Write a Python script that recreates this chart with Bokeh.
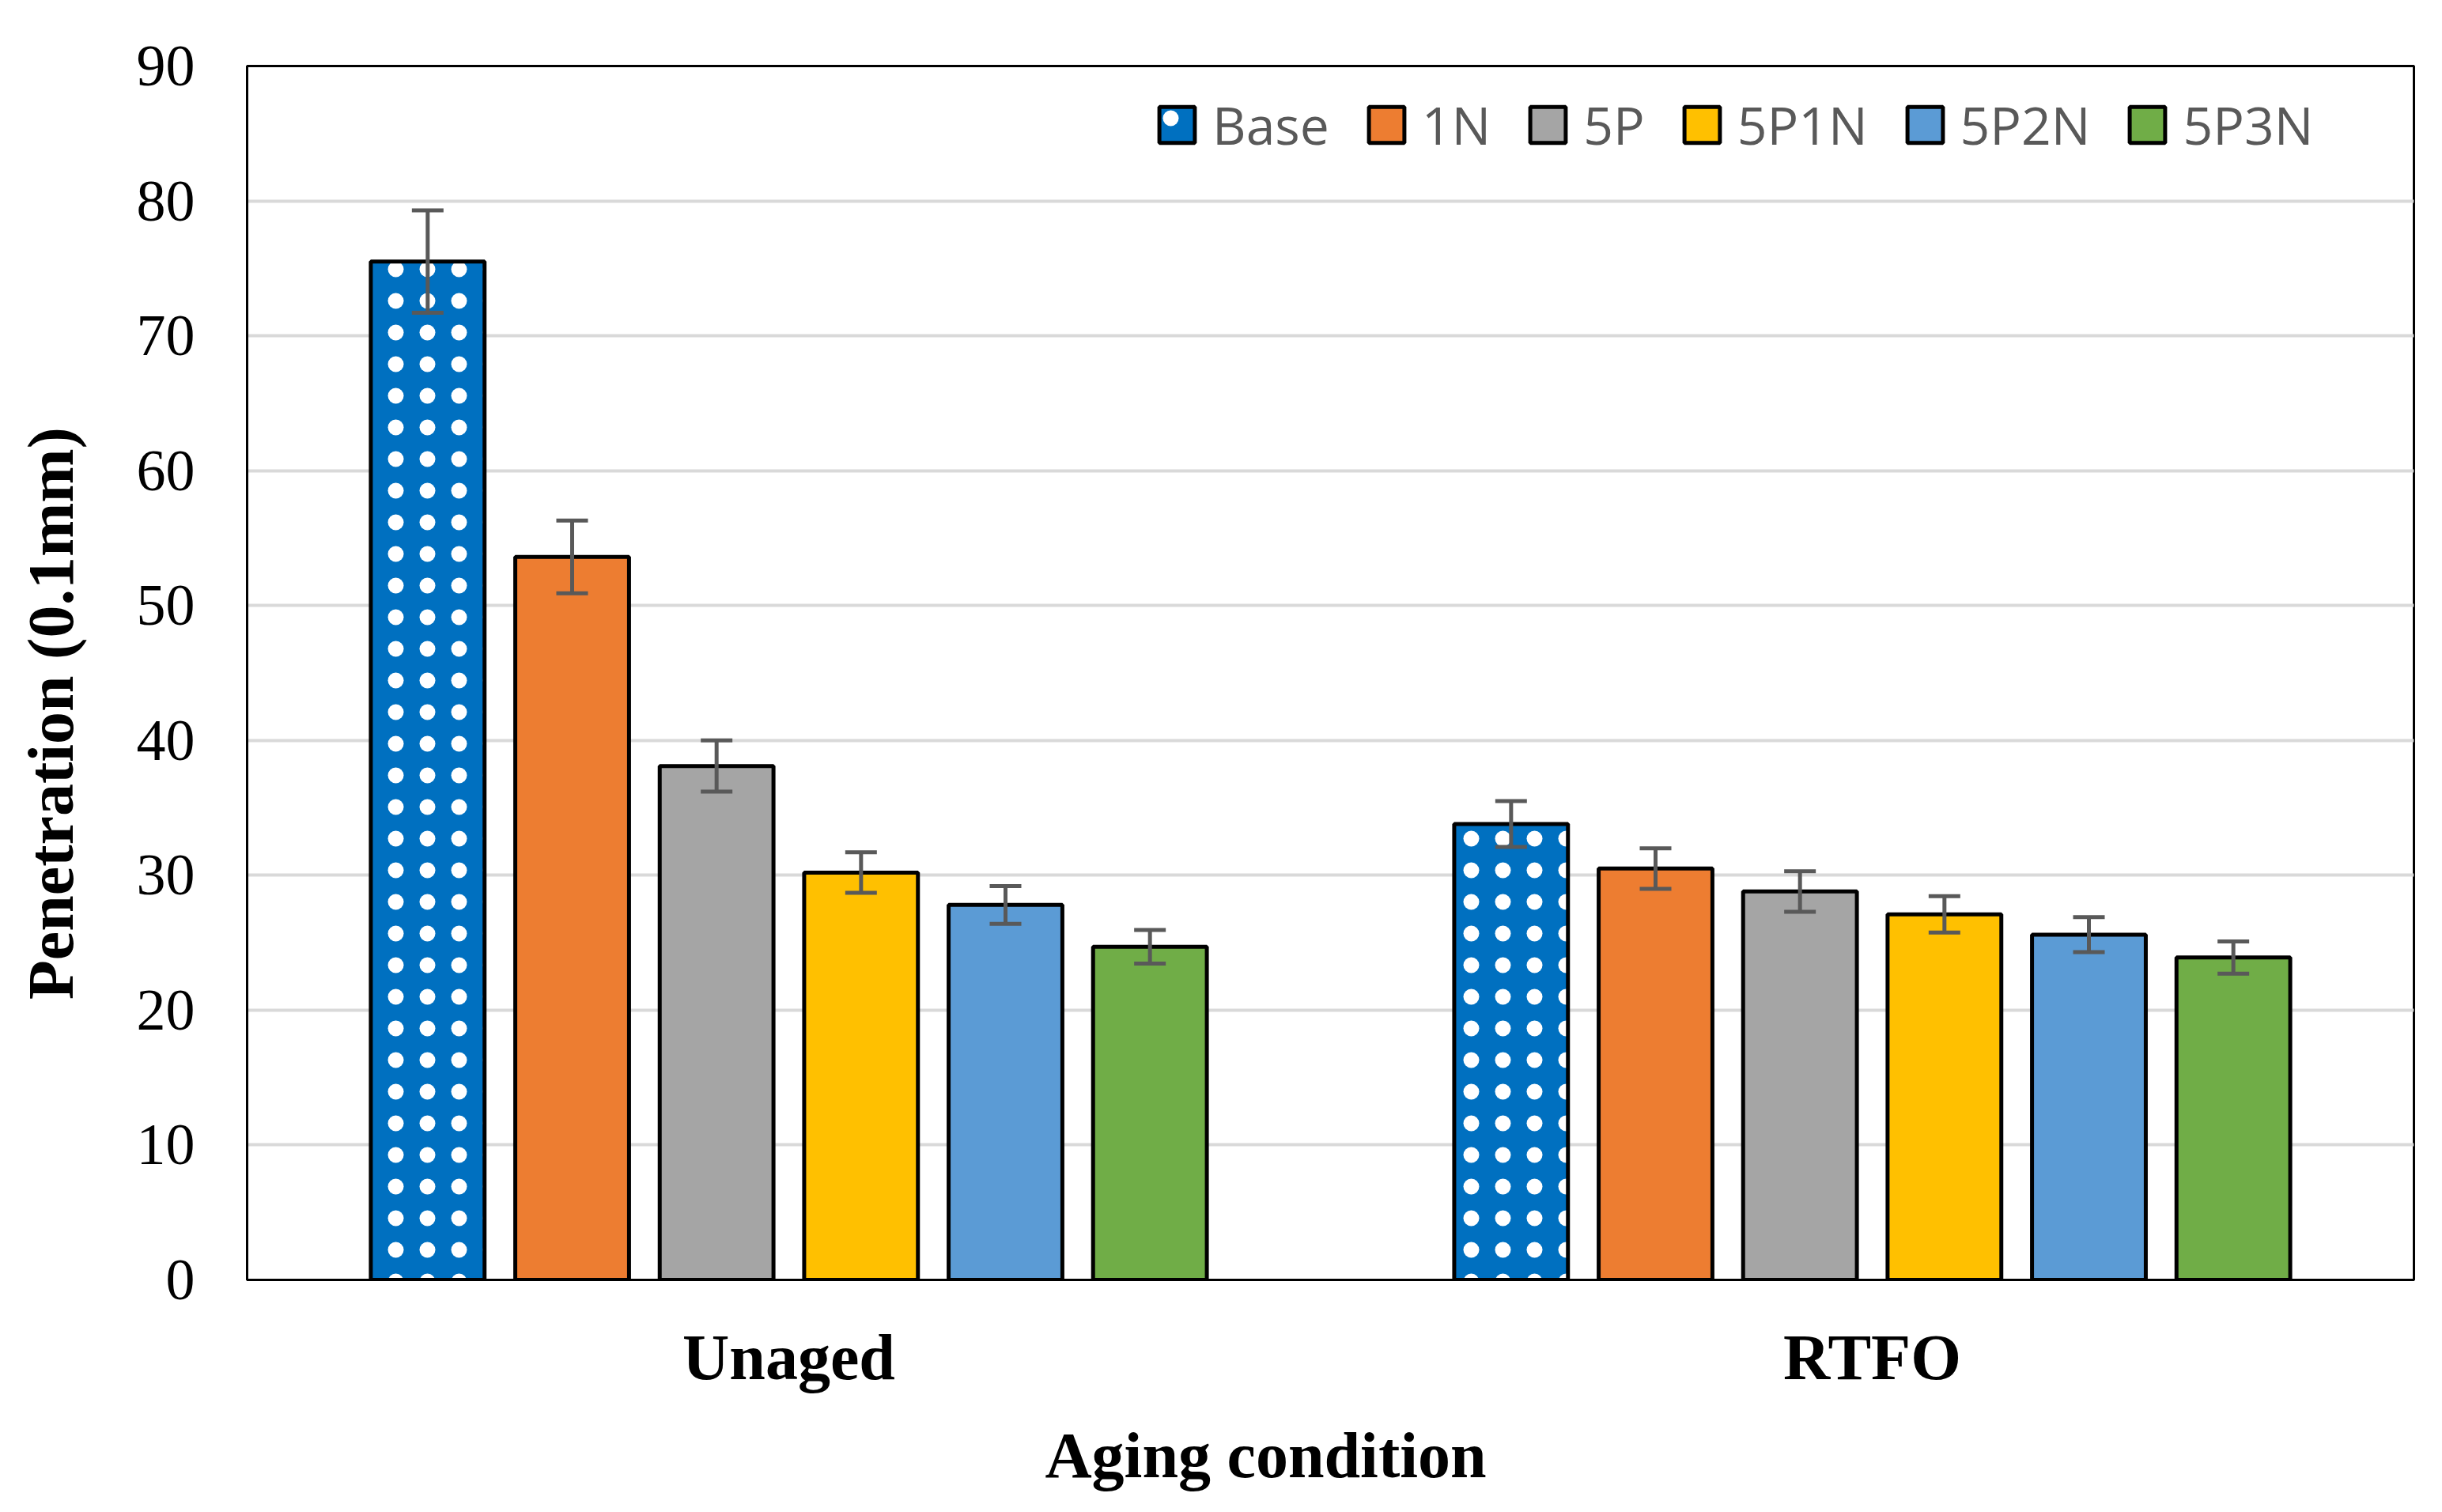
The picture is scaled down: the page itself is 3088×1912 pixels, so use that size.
from bokeh.plotting import figure
from bokeh.models import (ColumnDataSource, FixedTicker, Whisker, TeeHead, Legend, LegendItem,
                          Range1d)
from bokeh.embed import file_html
from bokeh.resources import INLINE

conditions = ["Unaged", "RTFO"]
series = ["Base", "1N", "5P", "5P1N", "5P2N", "5P3N"]
colors = ["#0070C0", "#ED7D31", "#A5A5A5", "#FFC000", "#5B9BD5", "#70AD47"]
values = {
    "Base": [75.5, 33.8],
    "1N":   [53.6, 30.5],
    "5P":   [38.1, 28.8],
    "5P1N": [30.2, 27.1],
    "5P2N": [27.8, 25.6],
    "5P3N": [24.7, 23.9],
}
errors = {
    "Base": [3.8, 1.7],
    "1N":   [2.7, 1.5],
    "5P":   [1.9, 1.5],
    "5P1N": [1.5, 1.35],
    "5P2N": [1.4, 1.3],
    "5P3N": [1.25, 1.2],
}
y_ticks = [0, 10, 20, 30, 40, 50, 60, 70, 80, 90]

W, H = 3072, 1896
p = figure(width=W, height=H, output_backend="svg", toolbar_location=None,
           x_range=Range1d(0, 2), y_range=Range1d(0, 90),
           min_border_left=312, min_border_right=20, min_border_top=83, min_border_bottom=278)
p.background_fill_color = "white"
p.border_fill_color = "white"
p.outline_line_color = "black"
p.outline_line_width = 3

serif = "Liberation Serif"
NB = "\u00a0"
p.xaxis.ticker = FixedTicker(ticks=[0.5, 1.5])
p.xaxis.major_label_overrides = {0.5: conditions[0], 1.5: conditions[1]}
p.xaxis.major_label_text_font = serif
p.xaxis.major_label_text_font_size = "82px"
p.xaxis.major_label_text_font_style = "bold"
p.xaxis.major_label_text_color = "black"
p.xaxis.major_label_standoff = 46
# trailing no-break spaces shift the centred title left, as in the original
p.xaxis.axis_label = "Aging condition" + NB * 8
p.xaxis.axis_label_text_font = serif
p.xaxis.axis_label_text_font_size = "82px"
p.xaxis.axis_label_text_font_style = "bold"
p.xaxis.axis_label_text_color = "black"
p.xaxis.axis_label_standoff = 30

p.yaxis.ticker = FixedTicker(ticks=y_ticks)
p.yaxis.major_label_text_font = serif
p.yaxis.major_label_text_font_size = "74px"
p.yaxis.major_label_text_color = "black"
p.yaxis.major_label_standoff = 60
p.yaxis.axis_label = "Penetration (0.1mm)" + NB * 5
p.yaxis.axis_label_text_font = serif
p.yaxis.axis_label_text_font_size = "82px"
p.yaxis.axis_label_text_font_style = "bold"
p.yaxis.axis_label_text_color = "black"
p.yaxis.axis_label_standoff = 60

for ax in (p.xaxis, p.yaxis):
    ax.axis_line_color = "black"
    ax.axis_line_width = 3
    ax.major_tick_line_color = None
    ax.minor_tick_line_color = None

p.xgrid.grid_line_color = None
p.ygrid.grid_line_color = "#D9D9D9"
p.ygrid.grid_line_width = 4

step = 0.8 / len(series)
bar_w = 0.105
items = []
xs_all, up_all, lo_all = [], [], []
for j, s in enumerate(series):
    xs = [i + 0.5 + (j - 2.5) * step for i in range(len(conditions))]
    src = ColumnDataSource(dict(x=xs, top=values[s]))
    kw = {}
    if s == "Base":
        kw = dict(hatch_pattern="dot", hatch_color="white", hatch_scale=40, hatch_weight=1)
    r = p.vbar(x="x", top="top", width=bar_w, source=src, fill_color=colors[j],
               line_color="black", line_width=5, **kw)
    items.append(LegendItem(label=s, renderers=[r]))
    for i in range(len(conditions)):
        xs_all.append(xs[i])
        up_all.append(values[s][i] + errors[s][i])
        lo_all.append(values[s][i] - errors[s][i])

esrc = ColumnDataSource(dict(base=xs_all, upper=up_all, lower=lo_all))
wk = Whisker(base="base", upper="upper", lower="lower", source=esrc,
             line_color="#595959", line_width=5, level="overlay",
             upper_head=TeeHead(size=40, line_color="#595959", line_width=5),
             lower_head=TeeHead(size=40, line_color="#595959", line_width=5))
p.add_layout(wk)

legend = Legend(items=items, orientation="horizontal", location=(1148, 1416),
                label_text_font="Open Sans", label_text_font_size="66px",
                label_text_color="#595959", glyph_width=56, glyph_height=57,
                label_standoff=17, spacing=44, padding=0, margin=0,
                background_fill_alpha=0, border_line_color=None)
p.add_layout(legend)

open("out.html", "w").write(file_html(p, INLINE))
